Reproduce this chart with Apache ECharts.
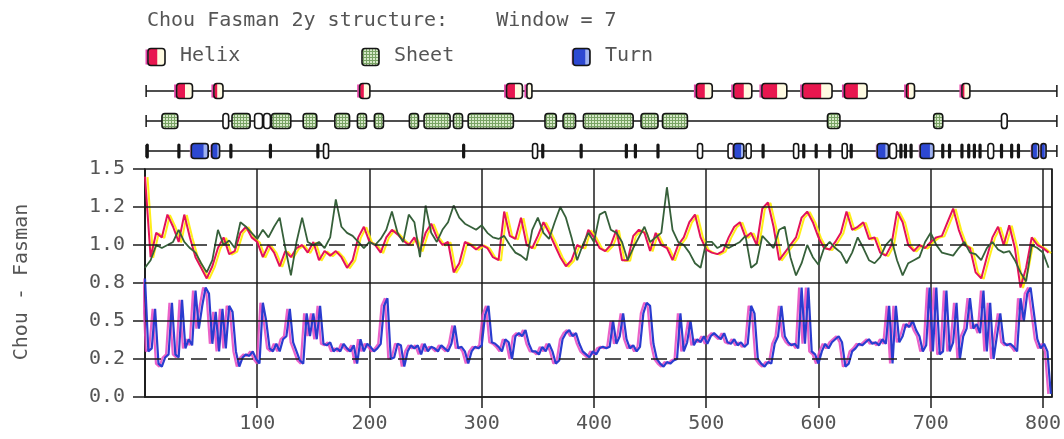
<!DOCTYPE html>
<html>
<head>
<meta charset="utf-8">
<script src="https://cdn.jsdelivr.net/npm/echarts@6.0.0/dist/echarts.min.js"></script>
<style>
html, body { margin: 0; padding: 0; background: #fff; }
#chart { width: 1064px; height: 439px; }
</style>
</head>
<body>
<div id="chart"></div>
<script>
// residue numbering of the profile
let seqStart = 1
let seqEnd = 807
let xMax = 808
let lineStep = 5   // helix / sheet sampled every 5 residues
let turnStep = 3   // turn sampled every 3 residues

let yTickLabels = ['0.0', '0.2', '0.5', '0.8', '1.0', '1.2', '1.5']
let solidRefs = [0.5, 0.75, 1.25]
let dashedRefs = [0.25, 1.0]

let helixVals = [
    1.45, 0.92, 1.08, 1.05, 1.2, 1.12, 1.02, 1.2, 1.05, 0.92,
    0.85, 0.78, 0.86, 0.98, 1.05, 0.94, 0.96, 1.08, 1.12, 1.05,
    1.02, 0.92, 1.0, 0.95, 0.86, 0.96, 0.92, 0.98, 1.0, 0.95,
    1.02, 0.9, 0.96, 0.93, 0.96, 0.92, 0.85, 0.9, 1.05, 1.12,
    1.02,
    1.0, 0.95, 1.05, 1.1, 1.07, 1.03, 1.0, 1.05, 0.96, 1.08,
    1.14, 1.05, 1.0, 1.02, 0.82, 0.88, 1.02, 1.0, 0.97, 1.0,
    0.98, 0.92, 0.9, 1.22, 1.06, 1.04, 1.18, 1.0, 0.98, 1.06,
    1.15, 1.08, 1.0, 0.92, 0.86, 0.9, 1.0, 0.98, 1.1, 1.05,
    0.98,
    0.96, 1.0, 1.1, 0.9, 0.9, 1.06, 1.1, 1.08, 0.96, 1.08,
    1.0, 0.98, 0.9, 1.0, 1.05, 1.15, 1.2, 1.05, 0.97, 0.95,
    0.94, 0.96, 1.05, 1.12, 1.15, 1.05, 1.08, 1.0, 1.24, 1.28,
    1.12, 0.9, 0.95, 1.0, 1.05, 1.18, 1.22, 1.15, 1.05, 0.98,
    0.97,
    1.02, 1.08, 1.22, 1.1, 1.12, 1.15, 1.04, 1.05, 0.95, 0.93,
    1.0, 1.22, 1.15, 1.0, 0.96, 1.0, 0.98, 1.02, 1.05, 1.06,
    1.15, 1.24, 1.1, 1.0, 0.98, 0.82, 0.78, 0.92, 1.05, 1.12,
    1.0, 1.13, 0.98, 0.72, 0.85, 1.05, 1.0, 0.98, 0.95
]

let sheetVals = [
    0.85, 0.9, 1.0, 0.98, 1.0, 1.02, 1.1, 1.02, 0.98, 0.95,
    0.88, 0.82, 0.9, 1.1, 1.0, 1.03, 0.98, 1.15, 1.12, 1.08,
    1.04, 1.1, 1.05, 1.12, 1.18, 0.98, 0.8, 1.02, 1.18, 1.02,
    1.0, 1.02, 0.98, 1.05, 1.3, 1.12, 1.08, 1.06, 1.02, 0.98,
    1.02,
    1.0, 1.04, 1.1, 1.22, 1.08, 1.02, 1.2, 1.15, 0.92, 1.26,
    1.08, 1.02, 1.1, 1.15, 1.26, 1.18, 1.14, 1.12, 1.1, 1.13,
    1.08, 1.05, 1.04, 1.06, 1.0, 0.95, 0.93, 0.9, 1.1, 1.18,
    1.08, 1.04, 1.15, 1.25, 1.18, 1.05, 0.9, 1.0, 1.08, 1.02,
    1.2,
    1.22, 1.1, 1.08, 1.02, 0.9, 0.98, 1.05, 1.12, 1.02, 1.05,
    1.08, 1.38, 1.1, 1.02, 1.0, 0.95, 0.88, 0.85, 1.02, 1.02,
    0.98, 1.0, 0.98, 1.0, 1.02, 1.06, 0.85, 0.88, 1.06, 1.02,
    0.98, 1.1, 1.12, 0.92, 0.8, 0.88, 1.0, 0.92, 0.87, 0.98,
    1.02,
    0.98, 0.95, 0.88, 0.95, 1.05, 0.98, 0.9, 0.88, 0.92, 1.0,
    1.04, 0.9, 0.8, 0.88, 0.9, 0.92, 1.02, 1.08, 1.0, 0.95,
    0.94, 0.93, 0.98, 1.02, 0.95, 0.94, 0.9, 0.98, 1.02, 0.97,
    0.95, 0.96, 0.9, 0.82, 0.76, 1.0, 0.98, 0.95, 0.85
]

let turnVals = [
    0.78, 0.3, 0.32, 0.58, 0.22, 0.2, 0.26, 0.28, 0.62, 0.28,
    0.26, 0.64, 0.32, 0.38, 0.34, 0.7, 0.45, 0.6, 0.72, 0.68,
    0.35, 0.56, 0.3, 0.58, 0.32, 0.6, 0.56, 0.3, 0.2, 0.26,
    0.28, 0.27, 0.3, 0.25, 0.22, 0.62, 0.5, 0.32, 0.3, 0.35,
    0.3, 0.38, 0.4, 0.58, 0.36, 0.3, 0.24, 0.22, 0.55, 0.4,
    0.55, 0.38, 0.6, 0.35, 0.34, 0.36, 0.3, 0.32, 0.3, 0.35,
    0.32, 0.3, 0.34, 0.22, 0.38, 0.3, 0.35, 0.33,
    0.3, 0.32, 0.35, 0.6, 0.65, 0.25, 0.26, 0.35, 0.34, 0.2,
    0.3, 0.34, 0.32, 0.34, 0.28, 0.35, 0.3, 0.33, 0.32, 0.3,
    0.34, 0.32, 0.3, 0.35, 0.47, 0.32, 0.33, 0.3, 0.22, 0.3,
    0.33, 0.32, 0.34, 0.54, 0.6, 0.36, 0.35, 0.33, 0.3, 0.38,
    0.36, 0.25, 0.4, 0.42, 0.4, 0.44, 0.35, 0.3, 0.3, 0.28,
    0.33, 0.3, 0.35, 0.3, 0.22, 0.24, 0.38, 0.42, 0.44, 0.4,
    0.42, 0.35, 0.3, 0.28, 0.26, 0.3, 0.28, 0.32, 0.33,
    0.32, 0.33, 0.5, 0.35, 0.4, 0.55, 0.38, 0.32, 0.34, 0.3,
    0.33, 0.55, 0.62, 0.6, 0.35, 0.25, 0.22, 0.2, 0.23, 0.22,
    0.24, 0.25, 0.55, 0.3, 0.36, 0.5, 0.34, 0.38, 0.36, 0.4,
    0.35, 0.4, 0.42, 0.4, 0.38, 0.42, 0.36, 0.35, 0.38, 0.34,
    0.36, 0.33, 0.35, 0.6, 0.55, 0.25, 0.22, 0.2, 0.23, 0.22,
    0.35, 0.4, 0.6, 0.4, 0.36, 0.34, 0.35, 0.32, 0.72, 0.35,
    0.72, 0.3, 0.28, 0.22, 0.3, 0.35, 0.32, 0.36,
    0.38, 0.4, 0.36, 0.2, 0.22, 0.3, 0.32, 0.35, 0.34, 0.36,
    0.38, 0.35, 0.36, 0.34, 0.38, 0.35, 0.6, 0.22, 0.6, 0.36,
    0.4, 0.48, 0.46, 0.5, 0.44, 0.4, 0.3, 0.34, 0.72, 0.3,
    0.72, 0.28, 0.3, 0.7, 0.3, 0.36, 0.62, 0.25, 0.4, 0.45,
    0.65, 0.45, 0.48, 0.42, 0.7, 0.3, 0.62, 0.25, 0.4, 0.55,
    0.36, 0.34, 0.35, 0.33, 0.3, 0.65, 0.5, 0.68, 0.72, 0.55,
    0.38, 0.32, 0.35, 0.3, 0.02
]

// predicted segments [start, end] (residues)
let helixSegs = [[28, 42], [61, 69], [190, 199], [320, 334], [338, 342], [488, 502],
    [521, 537], [546, 568], [582, 608], [619, 639], [674, 681], [723, 730]]
// [start, end, filled]
let sheetSegs = [[15, 29, 1], [69, 74, 0], [77, 93, 1], [97, 104, 0], [105, 111, 0],
    [112, 129, 1], [140, 152, 1], [168, 181, 1], [188, 196, 1], [203, 211, 1],
    [234, 242, 1], [247, 270, 1], [273, 281, 1], [286, 326, 1], [354, 364, 1],
    [370, 381, 1], [388, 432, 1], [439, 454, 1], [458, 480, 1], [604, 615, 1],
    [698, 706, 1], [758, 763, 0]]
let turnSegs = [[41, 56, 1], [59, 66, 1], [158, 162, 0], [343, 347, 0], [489, 493, 0],
    [516, 520, 0], [521, 530, 1], [532, 536, 0], [574, 578, 0], [617, 621, 0],
    [648, 658, 1], [659, 665, 0], [686, 698, 1], [746, 751, 0], [785, 791, 1], [793, 797, 1]]
let turnTicks = [2, 30, 76, 111, 153, 282, 352, 386, 426, 434, 454, 547, 583, 594, 606,
    625, 669, 673, 678, 706, 712, 723, 729, 734, 739, 758, 767, 773]

let trackNames = ['Helix', 'Sheet', 'Turn']
let trackRowY = [2.5, 1.5, 0.5]

// hatched fill for sheet boxes
let hatch = document.createElement('canvas')
hatch.width = 3
hatch.height = 3
let hctx = hatch.getContext('2d')
hctx.fillStyle = '#d6e8c8'
hctx.fillRect(0, 0, 3, 3)
hctx.fillStyle = '#78a264'
hctx.fillRect(0, 0, 3, 1)
hctx.fillRect(0, 0, 1, 3)
let sheetFill = { image: hatch, repeat: 'repeat' }

let font = '"DejaVu Sans Mono", "Liberation Mono", monospace'
let textColor = '#555555'
let boxH = 15

function boxShapes(kind, x0, w, cy, h) {
    let top = cy - h / 2
    let out = []
    if (kind === 'tick') {
        return [{ type: 'rect', shape: { x: x0 - 1.6, y: top, width: 3.2, height: h, r: 1.6 }, style: { fill: '#151515' } }]
    }
    w = Math.max(w, 5)
    if (kind === 'helix') {
        out.push({ type: 'rect', shape: { x: x0 - 2.5, y: top + 1, width: 4, height: h - 2 }, style: { fill: '#e445a8' } })
        out.push({ type: 'rect', shape: { x: x0, y: top, width: w, height: h, r: 3 }, style: { fill: '#fffbe2' } })
        let rw = Math.max(0, w * 0.75 - 4)
        if (rw > 0) {
            out.push({ type: 'rect', shape: { x: x0 + 0.5, y: top + 0.5, width: rw, height: h - 1 }, style: { fill: '#e8174f' } })
        }
    } else if (kind === 'sheet') {
        out.push({ type: 'rect', shape: { x: x0, y: top, width: w, height: h, r: 3 }, style: { fill: sheetFill } })
    } else if (kind === 'turn') {
        out.push({ type: 'rect', shape: { x: x0 - 1.5, y: top + 1, width: 3, height: h - 2 }, style: { fill: '#e8a0e0' } })
        out.push({ type: 'rect', shape: { x: x0, y: top, width: w, height: h, r: 3 }, style: { fill: '#2d48d2' } })
        out.push({ type: 'rect', shape: { x: x0 + w * 0.72, y: top + 1, width: w * 0.22, height: h - 2 }, style: { fill: '#9fb2f0' } })
    } else {
        out.push({ type: 'rect', shape: { x: x0, y: top, width: w, height: h, r: 3 }, style: { fill: '#ffffff' } })
    }
    out.push({ type: 'rect', shape: { x: x0, y: top, width: w, height: h, r: 3 }, style: { fill: null, stroke: '#151515', lineWidth: 1.6 } })
    return out
}

function segRenderer(kindFn) {
    return function (params, api) {
        let p0 = api.coord([api.value(0), api.value(2)])
        let p1 = api.coord([api.value(1), api.value(2)])
        let kind = kindFn(api)
        return { type: 'group', children: boxShapes(kind, p0[0], p1[0] - p0[0], p0[1], boxH) }
    }
}

function baseRenderer(params, api) {
    let p0 = api.coord([api.value(0), api.value(2)])
    let p1 = api.coord([api.value(1), api.value(2)])
    let st = { stroke: '#151515', lineWidth: 1.5 }
    return {
        type: 'group',
        children: [
            { type: 'line', shape: { x1: p0[0], y1: p0[1], x2: p1[0], y2: p1[1] }, style: st },
            { type: 'line', shape: { x1: p0[0], y1: p0[1] - 6, x2: p0[0], y2: p0[1] + 6 }, style: st },
            { type: 'line', shape: { x1: p1[0], y1: p1[1] - 6, x2: p1[0], y2: p1[1] + 6 }, style: st }
        ]
    }
}

let chart = echarts.init(document.getElementById('chart'))

let legendX = [148, 362, 573]
let legendKinds = ['helix', 'sheet', 'turn']
let graphics = [
    { type: 'text', left: 147, top: 11, style: { text: 'Chou Fasman 2y structure:    Window = 7', font: '20px ' + font, fill: textColor } },
    { type: 'text', x: 22, y: 282, rotation: Math.PI / 2, style: { text: 'Chou - Fasman', font: '20px ' + font, fill: textColor, align: 'center', verticalAlign: 'middle' } }
]
trackNames.forEach(function (name, i) {
    graphics.push({ type: 'group', children: boxShapes(legendKinds[i], legendX[i], 17, 57, 17) })
    graphics.push({ type: 'text', left: legendX[i] + 32, top: 46, style: { text: name, font: '20px ' + font, fill: textColor } })
})

let hiddenAxis = { show: false }

let option = {
    animation: false,
    backgroundColor: '#ffffff',
    graphic: graphics,
    grid: [
        { left: 145, right: 6, top: 169, height: 228, show: true, borderColor: '#1c1c1c', borderWidth: 1.5, backgroundColor: 'transparent' },
        { left: 145, right: 6, top: 76, height: 90 }
    ],
    xAxis: [
        {
            type: 'value', min: 0, max: xMax, interval: 100, gridIndex: 0,
            axisLine: { show: true, lineStyle: { color: '#1c1c1c', width: 1.5 } },
            axisTick: { show: true, length: 11, lineStyle: { color: '#1c1c1c', width: 1.5 } },
            splitLine: { show: true, lineStyle: { color: '#1c1c1c', width: 1.5 } },
            axisLabel: { show: true, margin: 17, color: textColor, fontFamily: font, fontSize: 20, showMinLabel: false, showMaxLabel: false }
        },
        Object.assign({ type: 'value', min: 0, max: xMax, gridIndex: 1 }, hiddenAxis)
    ],
    yAxis: [
        {
            type: 'value', min: 0, max: 1.5, interval: 0.25, gridIndex: 0,
            axisLine: { show: true, lineStyle: { color: '#1c1c1c', width: 1.5 } },
            axisTick: { show: true, length: 12, lineStyle: { color: '#1c1c1c', width: 1.5 } },
            splitLine: { show: false },
            axisLabel: {
                margin: 20, color: textColor, fontFamily: font, fontSize: 20,
                formatter: function (v) { return yTickLabels[Math.round(v / 0.25)] }
            }
        },
        Object.assign({ type: 'value', min: 0, max: 3, gridIndex: 1 }, hiddenAxis)
    ],
    series: [
        {
            name: 'Helix', type: 'line', xAxisIndex: 0, yAxisIndex: 0, showSymbol: false, silent: true,
            data: helixVals.map(function (v, i) { return [i * lineStep, v] }),
            lineStyle: { color: '#e3125a', width: 2, shadowColor: 'rgba(255,236,0,0.9)', shadowOffsetX: 2.5, shadowOffsetY: 0.5, shadowBlur: 0 },
            markLine: {
                silent: true, symbol: 'none', label: { show: false },
                data: solidRefs.map(function (v) { return { yAxis: v, lineStyle: { type: 'solid', color: '#1c1c1c', width: 1.5 } } })
                    .concat(dashedRefs.map(function (v) { return { yAxis: v, lineStyle: { type: [16, 7], color: '#1c1c1c', width: 1.5 } } }))
            }
        },
        {
            name: 'Sheet', type: 'line', xAxisIndex: 0, yAxisIndex: 0, showSymbol: false, silent: true,
            data: sheetVals.map(function (v, i) { return [i * lineStep, v] }),
            lineStyle: { color: '#36603a', width: 1.8 }
        },
        {
            name: 'Turn', type: 'line', xAxisIndex: 0, yAxisIndex: 0, showSymbol: false, silent: true,
            data: turnVals.map(function (v, i) { return [i * turnStep, v] }),
            lineStyle: { color: '#2a3ccf', width: 2.2, shadowColor: 'rgba(230,70,190,0.85)', shadowOffsetX: -2.5, shadowBlur: 0 }
        },
        {
            type: 'custom', xAxisIndex: 1, yAxisIndex: 1, silent: true,
            encode: { x: [0, 1], y: 2 },
            data: trackRowY.map(function (y) { return [seqStart, seqEnd, y] }),
            renderItem: baseRenderer
        },
        {
            name: 'Helix track', type: 'custom', xAxisIndex: 1, yAxisIndex: 1, silent: true,
            encode: { x: [0, 1], y: 2 },
            data: helixSegs.map(function (s) { return [s[0], s[1], trackRowY[0]] }),
            renderItem: segRenderer(function () { return 'helix' })
        },
        {
            name: 'Sheet track', type: 'custom', xAxisIndex: 1, yAxisIndex: 1, silent: true,
            encode: { x: [0, 1], y: 2 },
            data: sheetSegs.map(function (s) { return [s[0], s[1], trackRowY[1], s[2]] }),
            renderItem: segRenderer(function (api) { return api.value(3) ? 'sheet' : 'empty' })
        },
        {
            name: 'Turn track', type: 'custom', xAxisIndex: 1, yAxisIndex: 1, silent: true,
            encode: { x: [0, 1], y: 2 },
            data: turnSegs.map(function (s) { return [s[0], s[1], trackRowY[2], s[2]] })
                .concat(turnTicks.map(function (t) { return [t, t, trackRowY[2], 2] })),
            renderItem: segRenderer(function (api) {
                let k = api.value(3)
                return k === 2 ? 'tick' : (k ? 'turn' : 'empty')
            })
        }
    ]
}
chart.setOption(option)
</script>
</body>
</html>
